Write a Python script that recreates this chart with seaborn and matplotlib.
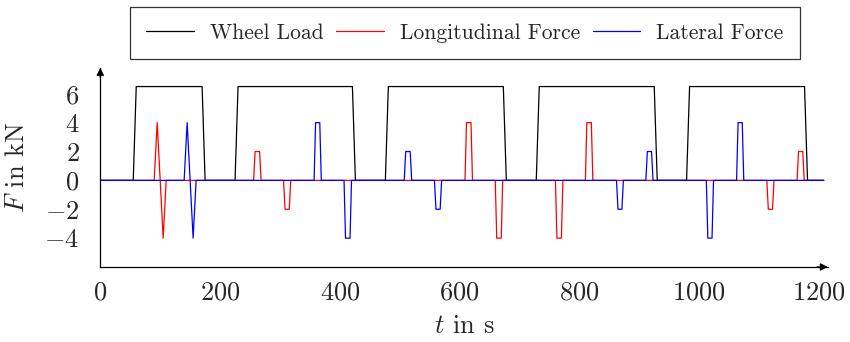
import numpy as np
import pandas as pd
import matplotlib
matplotlib.use("Agg")
import matplotlib.pyplot as plt
import seaborn as sns

# ---------------- data ----------------
wheel_t = [0, 55, 60, 170, 175, 225, 230, 421, 426, 476, 481, 673, 678,
           728, 733, 925, 930, 979, 984, 1176, 1181, 1208]
wheel_F = [0, 0, 6.5, 6.5, 0, 0, 6.5, 6.5, 0, 0, 6.5, 6.5, 0,
           0, 6.5, 6.5, 0, 0, 6.5, 6.5, 0, 0]

long_t = [0,
          90, 95, 105, 110,
          256, 258.5, 266, 268.5,
          306, 308.5, 315.5, 318,
          609, 611.5, 619, 621.5,
          659.5, 662, 669.5, 672,
          760, 762.5, 770, 772.5,
          810, 812.5, 820, 822.5,
          1113, 1115.5, 1122.5, 1125,
          1163.5, 1166, 1173, 1175.5,
          1208]
long_F = [0,
          0, 4, -4, 0,
          0, 2, 2, 0,
          0, -2, -2, 0,
          0, 4, 4, 0,
          0, -4, -4, 0,
          0, -4, -4, 0,
          0, 4, 4, 0,
          0, -2, -2, 0,
          0, 2, 2, 0,
          0]

lat_t = [0,
         140, 145, 155, 160,
         357, 359.5, 366.5, 369,
         407, 409.5, 417, 419.5,
         507.5, 510, 517.5, 520,
         558, 560.5, 567.5, 570,
         862, 864.5, 871, 873.5,
         911, 913.5, 920.5, 923,
         1012, 1014.5, 1021.5, 1024,
         1062.5, 1065, 1072, 1074.5,
         1208]
lat_F = [0,
         0, 4, -4, 0,
         0, 4, 4, 0,
         0, -4, -4, 0,
         0, 2, 2, 0,
         0, -2, -2, 0,
         0, -2, -2, 0,
         0, 2, 2, 0,
         0, -4, -4, 0,
         0, 4, 4, 0,
         0]

series_names = ["Wheel Load", "Longitudinal Force", "Lateral Force"]
series_colors = ["black", "red", "blue"]
x_ticks = [0, 200, 400, 600, 800, 1000, 1200]
y_ticks = [-4, -2, 0, 2, 4, 6]

frames = []
for name, t, f in zip(series_names, [wheel_t, long_t, lat_t], [wheel_F, long_F, lat_F]):
    frames.append(pd.DataFrame({"t": t, "F": f, "series": name}))
df = pd.concat(frames, ignore_index=True)

# ---------------- style ----------------
sns.set_style("white")
plt.rcParams["font.family"] = "serif"
plt.rcParams["font.serif"] = ["cmr10"]
plt.rcParams["mathtext.fontset"] = "cm"
plt.rcParams["axes.formatter.use_mathtext"] = True
plt.rcParams["axes.unicode_minus"] = True

fig = plt.figure(figsize=(8.5, 3.42), dpi=100)
ax = fig.add_axes([0.118, 0.2193, 0.974 - 0.118, 0.8018 - 0.2193])

sns.lineplot(data=df, x="t", y="F", hue="series", hue_order=series_names,
             palette=dict(zip(series_names, series_colors)), sort=False,
             estimator=None, units="series", lw=0.9, ax=ax, legend=True)

ax.set_xlim(0, 1215)
ax.set_ylim(-6, 7.8)
ax.set_xticks(x_ticks)
ax.set_yticks(y_ticks)

for s in ["top", "right"]:
    ax.spines[s].set_visible(False)
for s in ["left", "bottom"]:
    ax.spines[s].set_linewidth(0.9)
    ax.spines[s].set_color("black")

ax.tick_params(axis="both", which="major", direction="inout", length=8,
               width=0.6, color="0.55", labelsize=19, pad=6)
ax.tick_params(axis="y", pad=11)

ax.set_xlabel(r"$t$ in s", fontsize=19, labelpad=7)
ax.set_ylabel(r"$F$ in kN", fontsize=19, labelpad=11)

# axis arrows
ax.annotate("", xy=(1.0, 0), xytext=(0.985, 0), xycoords="axes fraction",
            arrowprops=dict(arrowstyle="-|>", color="black", lw=0.9, mutation_scale=11,
                            shrinkA=0, shrinkB=0))
ax.annotate("", xy=(0, 1.0), xytext=(0, 0.95), xycoords="axes fraction",
            arrowprops=dict(arrowstyle="-|>", color="black", lw=0.9, mutation_scale=11,
                            shrinkA=0, shrinkB=0))

handles, labels = ax.get_legend_handles_labels()
ax.get_legend().remove()
leg = fig.legend(handles, labels, loc="center", bbox_to_anchor=(0.547, 0.9035),
                 ncol=3, fontsize=15.5, frameon=True, fancybox=False,
                 edgecolor="black", handlelength=2.2, columnspacing=0.6,
                 handletextpad=0.75, borderpad=0.75, borderaxespad=0)
leg.get_frame().set_linewidth(0.9)
for h in leg.get_lines():
    h.set_linewidth(0.9)

fig.savefig("out.png", dpi=100)
